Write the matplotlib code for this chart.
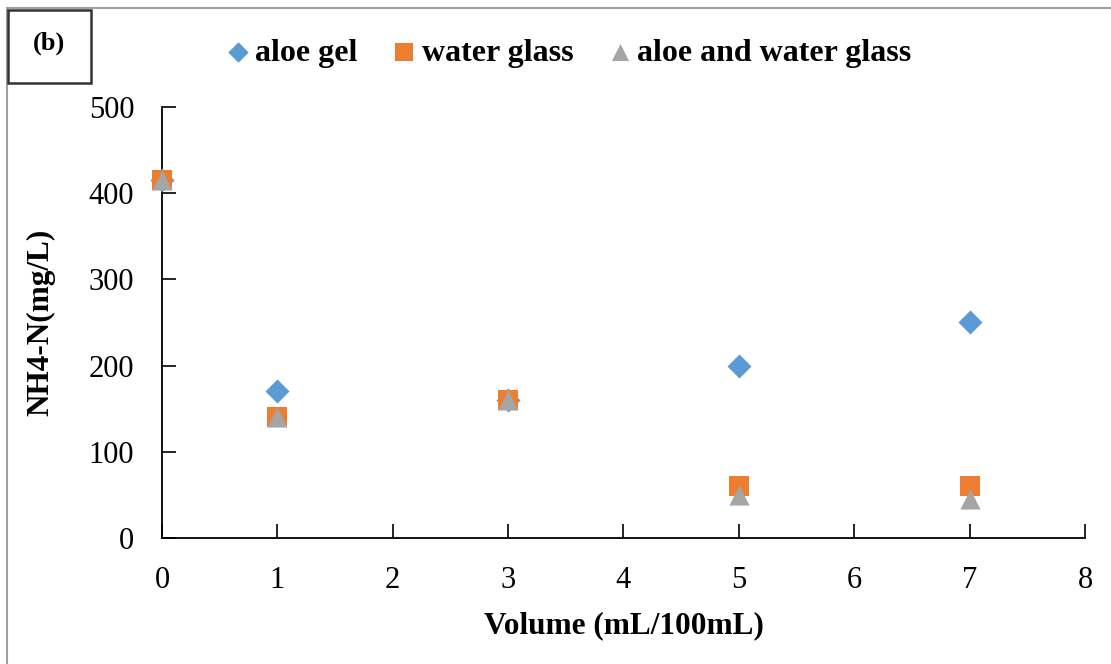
import numpy as np
import matplotlib.pyplot as plt
from matplotlib.patches import Rectangle

plt.rcParams['font.family'] = ['Liberation Serif', 'DejaVu Serif']

volume = [0, 1, 3, 5, 7]
aloe_gel = [415, 170, 160, 200, 250]
water_glass = [415, 140, 160, 60, 60]
aloe_water = [415, 140, 160, 50, 45]

fig = plt.figure(figsize=(11.11, 6.64), dpi=100)
ax = fig.add_axes([0.1458, 0.1898, 0.8308, 0.6491])

ax.scatter(volume, aloe_gel, marker='D', s=150, color='#5B9BD5', label='aloe gel',
           zorder=3, linewidths=0, clip_on=False)
ax.scatter(volume, water_glass, marker='s', s=210, color='#ED7D31', label='water glass',
           zorder=4, linewidths=0, clip_on=False)
ax.scatter(volume, aloe_water, marker='^', s=210, color='#A5A5A5', label='aloe and water glass',
           zorder=5, linewidths=0, clip_on=False)

ax.set_xlim(0, 8)
ax.set_ylim(0, 500)
ax.set_xticks(range(0, 9))
ax.set_yticks(range(0, 501, 100))
ax.tick_params(direction='in', length=10, width=1.2, labelsize=22, pad=20)
for s in ['top', 'right']:
    ax.spines[s].set_visible(False)
for s in ['left', 'bottom']:
    ax.spines[s].set_linewidth(1.3)

ax.set_xlabel('Volume (mL/100mL)', fontsize=22.5, fontweight='bold', labelpad=12)
ax.set_ylabel('NH4-N(mg/L)', fontsize=22.5, fontweight='bold', labelpad=24)

fig.legend(loc='center', bbox_to_anchor=(0.51, 0.92), ncol=3, frameon=False,
           prop={'size': 23, 'weight': 'bold'}, handlelength=1.0, handletextpad=0.05,
           columnspacing=0.95, markerscale=0.85)

# outer border and (b) label box
fig.add_artist(Rectangle((0.006, -0.05), 1.2, 1.038, transform=fig.transFigure,
                         fill=False, edgecolor='#A0A0A0', linewidth=1.5))
fig.add_artist(Rectangle((0.0072, 0.875), 0.0747, 0.11, transform=fig.transFigure,
                         fill=False, edgecolor='#333333', linewidth=1.8))
fig.text(0.044, 0.935, '(b)', fontsize=19, fontweight='bold', ha='center', va='center')

fig.savefig('out.png', dpi=100)
